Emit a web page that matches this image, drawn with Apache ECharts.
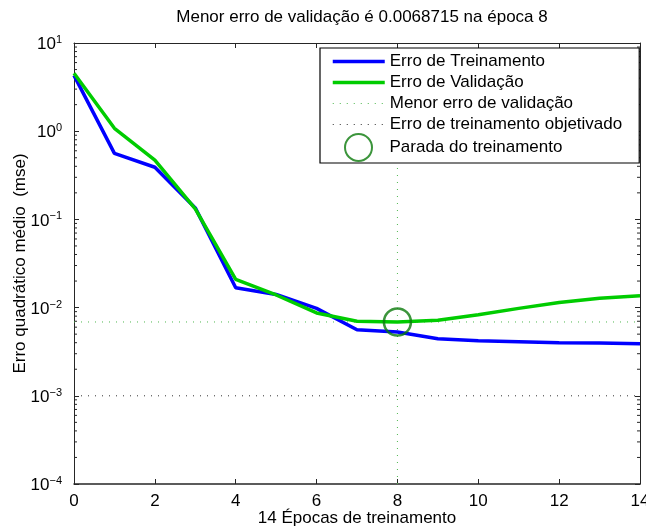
<!DOCTYPE html>
<html>
<head>
<meta charset="utf-8">
<script src="https://cdn.jsdelivr.net/npm/echarts@6/dist/echarts.min.js"></script>
<style>
html,body{margin:0;padding:0;background:#fff;}
#chart{width:646px;height:529px;}
</style>
</head>
<body>
<div id="chart"></div>
<script>
var epochs = [0,1,2,3,4,5,6,7,8,9,10,11,12,13,14];
var trainErr = [4.3, 0.56, 0.39, 0.135, 0.0168, 0.0141, 0.0098, 0.0056, 0.0053, 0.00444, 0.0042, 0.0041, 0.0040, 0.00397, 0.0039];
var valErr = [4.55, 1.08, 0.47, 0.132, 0.0209, 0.0139, 0.0087, 0.0070, 0.0068715, 0.0072, 0.0083, 0.0098, 0.0114, 0.0128, 0.0136];
var bestEpoch = 8;
var bestVal = 0.0068715;
var goalErr = 0.001;
var xRange = [0, 14];
var yRange = [0.0001, 10];
var yDecades = [-4,-3,-2,-1,0,1];
var minorMult = [2,3,4,5,6,7,8,9];

var titleText = 'Menor erro de validação é 0.0068715 na época 8';
var xName = '14 Épocas de treinamento';
var yName = 'Erro quadrático médio  (mse)';
var names = ['Erro de Treinamento','Erro de Validação','Menor erro de validação','Erro de treinamento objetivado','Parada do treinamento'];

var FONT = 'Liberation Sans, Arial, Helvetica, sans-serif';
var AX = '#262626';
var DOTG = '#4fb84f';
var DOTK = '#333333';

var trainData = epochs.map(function(e,i){return [e, trainErr[i]];});
var valData = epochs.map(function(e,i){return [e, valErr[i]];});
var bestHData = [[xRange[0], bestVal], [xRange[1], bestVal]];
var bestVData = [[bestEpoch, yRange[0]], [bestEpoch, yRange[1]]];
var goalData = [[xRange[0], goalErr], [xRange[1], goalErr]];
var minorData = [];
for (var d = 0; d < yDecades.length - 1; d++) {
  for (var m = 0; m < minorMult.length; m++) {
    minorData.push([0, minorMult[m] * Math.pow(10, yDecades[d])]);
  }
}

function supLabel(v){
  var e = Math.round(Math.log10(v));
  var s = e < 0 ? '\u2212' + (-e) : '' + e;
  return '{b|10}{s|' + s + '}';
}
var richY = {
  b: {fontSize: 17, lineHeight: 17, padding: [3,0,0,0], fontFamily: FONT, color: '#000'},
  s: {fontSize: 11, lineHeight: 11, verticalAlign: 'top', fontFamily: FONT, color: '#000'}
};

var chart = echarts.init(document.getElementById('chart'), null, {renderer: 'canvas'});
var option = {
  backgroundColor: '#fff',
  animation: false,
  textStyle: {fontFamily: FONT},
  title: {
    text: titleText, left: 357, top: 4, textAlign: 'center',
    textStyle: {fontSize: 17, fontWeight: 'normal', color: '#000', fontFamily: FONT}
  },
  grid: {left: 74, right: 6, top: 43, bottom: 45, containLabel: false, outerBoundsMode: 'none'},
  xAxis: [{
    type: 'value', min: xRange[0], max: xRange[1], interval: 2, position: 'bottom',
    name: xName, nameLocation: 'middle', nameGap: 26, nameMoveOverlap: false,
    nameTextStyle: {fontSize: 17, color: '#000', fontFamily: FONT},
    axisLine: {show: true, onZero: false, lineStyle: {color: AX, width: 1.5}},
    axisTick: {show: true, inside: true, length: 5, lineStyle: {color: AX}},
    axisLabel: {fontSize: 17, color: '#000', margin: 9, fontFamily: FONT, hideOverlap: false},
    splitLine: {show: false}
  },{
    type: 'value', min: xRange[0], max: xRange[1], interval: 2, position: 'top',
    axisLine: {show: true, onZero: false, lineStyle: {color: AX, width: 1}},
    axisTick: {show: true, inside: true, length: 5, lineStyle: {color: AX}},
    axisLabel: {show: false}, splitLine: {show: false}
  }],
  yAxis: [{
    type: 'log', logBase: 10, min: yRange[0], max: yRange[1], splitNumber: 5, position: 'left',
    name: yName, nameLocation: 'middle', nameGap: 45, nameMoveOverlap: false,
    nameTextStyle: {fontSize: 17, color: '#000', fontFamily: FONT},
    axisLine: {show: true, onZero: false, lineStyle: {color: AX, width: 1}},
    axisTick: {show: true, inside: true, length: 5, lineStyle: {color: AX}},
    axisLabel: {formatter: supLabel, rich: richY, margin: 12},
    splitLine: {show: false}
  },{
    type: 'log', logBase: 10, min: yRange[0], max: yRange[1], splitNumber: 5, position: 'right',
    axisLine: {show: true, onZero: false, lineStyle: {color: AX, width: 1}},
    axisTick: {show: true, inside: true, length: 5, lineStyle: {color: AX}},
    axisLabel: {show: false}, splitLine: {show: false}
  }],
  legend: [{
    orient: 'vertical', left: 320, top: 48,
    padding: [5, 17, 30, 11],
    itemGap: 4, itemWidth: 52, itemHeight: 14, itemTextGap: 7,
    borderColor: '#000', borderWidth: 1.2, backgroundColor: '#fff',
    itemStyle: {opacity: 0},
    lineStyle: {width: 'inherit'},
    textStyle: {fontSize: 17, lineHeight: 17, color: '#000', fontFamily: FONT},
    selectedMode: false,
    data: [names[0], names[1], names[2], names[3]]
  },{
    orient: 'vertical', left: 344, top: 133,
    padding: 0, itemWidth: 52, itemHeight: 27, itemTextGap: 7,
    textStyle: {fontSize: 17, color: '#000', fontFamily: FONT},
    selectedMode: false,
    data: [names[4]]
  }],
  series: [
    {
      type: 'custom', name: 'minorTicks', silent: true, z: 1,
      xAxisIndex: 0, yAxisIndex: 0,
      data: minorData,
      renderItem: function(params, api){
        var v = api.value(1);
        var pL = api.coord([xRange[0], v]);
        var pR = api.coord([xRange[1], v]);
        return {type: 'group', children: [
          {type: 'line', shape: {x1: pL[0], y1: pL[1], x2: pL[0] + 3, y2: pL[1]}, style: {stroke: AX, lineWidth: 1}},
          {type: 'line', shape: {x1: pR[0], y1: pR[1], x2: pR[0] - 3, y2: pR[1]}, style: {stroke: AX, lineWidth: 1}}
        ]};
      }
    },
    {
      type: 'line', name: names[2], data: bestHData, showSymbol: false, symbol: 'none', silent: true, z: 2,
      lineStyle: {color: DOTG, width: 1, type: [1, 6]}, itemStyle: {color: DOTG}
    },
    {
      type: 'line', name: names[2], data: bestVData, showSymbol: false, symbol: 'none', silent: true, z: 2,
      lineStyle: {color: DOTG, width: 1, type: [1, 6]}, itemStyle: {color: DOTG}
    },
    {
      type: 'line', name: names[3], data: goalData, showSymbol: false, symbol: 'none', silent: true, z: 2,
      lineStyle: {color: DOTK, width: 1, type: [1, 6]}, itemStyle: {color: DOTK}
    },
    {
      type: 'line', name: names[0], data: trainData, showSymbol: false, symbol: 'none',
      lineStyle: {color: '#0000ff', width: 3.5}, itemStyle: {color: '#0000ff'}, z: 3
    },
    {
      type: 'line', name: names[1], data: valData, showSymbol: false, symbol: 'none',
      lineStyle: {color: '#00cc00', width: 3.5}, itemStyle: {color: '#00cc00'}, z: 4
    },
    {
      type: 'scatter', name: names[4], data: [[bestEpoch, bestVal]],
      symbol: 'circle', symbolSize: 27, z: 5,
      itemStyle: {color: 'rgba(0,0,0,0)', borderColor: '#0b7a0b', borderWidth: 2.5}
    }
  ]
};
chart.setOption(option);
</script>
</body>
</html>
